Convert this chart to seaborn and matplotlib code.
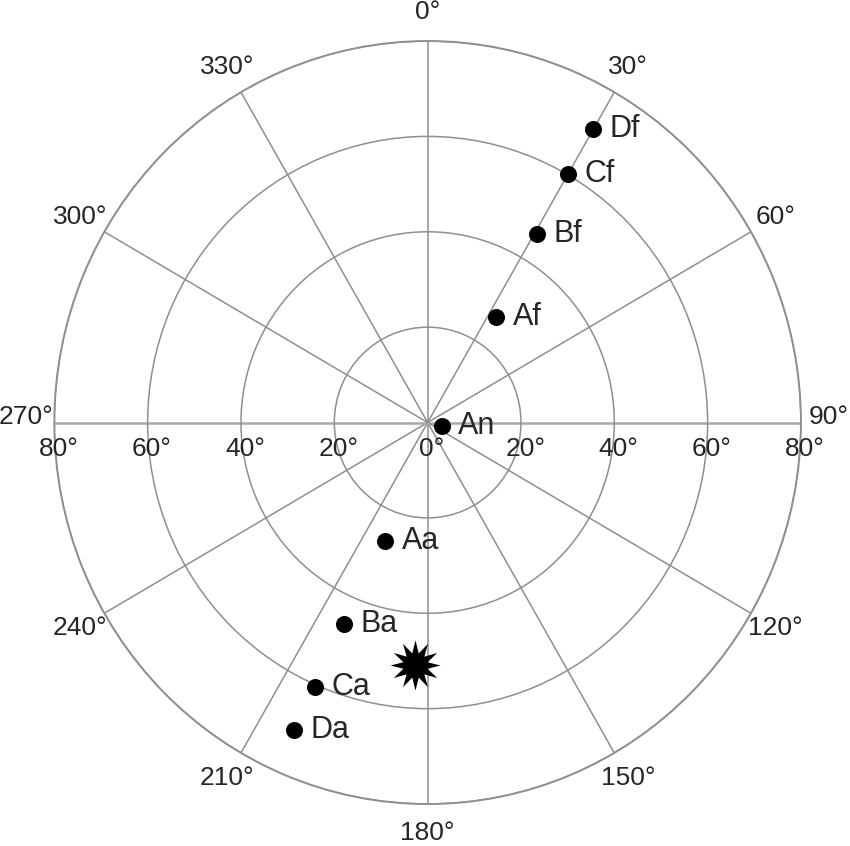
import numpy as np
import pandas as pd
import matplotlib
matplotlib.use("Agg")
import matplotlib.pyplot as plt
import seaborn as sns

# ---- data ----
point_labels = ["Af", "Bf", "Cf", "Df", "An", "Aa", "Ba", "Ca", "Da"]
azimuth_deg = [33.5, 30.5, 30.0, 30.0, 104.0, 200.0, 203.0, 203.5, 204.0]
zenith_deg = [26.5, 46.0, 60.3, 71.0, 3.1, 26.4, 46.0, 60.4, 70.5]
star_azimuth_deg = [183.0]
star_zenith_deg = [51.0]

angle_ticks = list(range(0, 360, 30))
angle_tick_labels = [f"{a}°" for a in angle_ticks]
radial_ticks = [20, 40, 60, 80]
radial_tick_labels = ["20°", "40°", "60°", "80°"]

df = pd.DataFrame({"label": point_labels,
                   "theta": np.deg2rad(azimuth_deg),
                   "r": zenith_deg})
star = pd.DataFrame({"theta": np.deg2rad(star_azimuth_deg), "r": star_zenith_deg})

sns.set_style("white")
plt.rcParams["font.family"] = ["Liberation Sans", "DejaVu Sans"]

fig = plt.figure(figsize=(8.5, 8.46), dpi=100)
ax = fig.add_axes([0.0639, 0.0496, 0.8784, 0.9019], projection="polar")
ax.set_aspect("auto")
ax.set_theta_zero_location("N")
ax.set_theta_direction(-1)

grid_color = "#8f8f8f"
sns.scatterplot(data=df, x="theta", y="r", ax=ax, color="black", s=150,
                linewidth=0, zorder=4, legend=False)
sns.scatterplot(data=star, x="theta", y="r", ax=ax, color="black", s=1300,
                marker=(12, 1, 0), linewidth=0, zorder=4, legend=False)
ax.set_xlabel("")
ax.set_ylabel("")

ax.set_ylim(0, 80)
ax.set_rticks(radial_ticks)
ax.set_yticklabels([])
ax.set_thetagrids(angle_ticks, labels=[""] * len(angle_ticks))
ax.grid(True, color=grid_color, linewidth=1.1)
for i, gl in enumerate(ax.xaxis.get_gridlines()):
    if angle_ticks[i] in (90, 270):
        gl.set_linewidth(1.8)
        gl.set_color("#a8a8a8")
ax.spines["polar"].set_color(grid_color)
ax.spines["polar"].set_linewidth(1.4)

fs = 19
# angle labels
for a, lab in zip(angle_ticks, angle_tick_labels):
    dy = 4 if a in (90, 270) else 0
    ax.annotate(lab, xy=(np.deg2rad(a), 86), xytext=(0, dy),
                textcoords="offset points", ha="center", va="center",
                fontsize=fs, annotation_clip=False)

# radial labels along the horizontal axis
ax.annotate("0°", xy=(0, 0), xytext=(3, -19), textcoords="offset points",
            ha="center", va="center", fontsize=fs, annotation_clip=False)
for r, lab in zip(radial_ticks, radial_tick_labels):
    for a in (90, 270):
        ax.annotate(lab, xy=(np.deg2rad(a), r), xytext=(3, -19),
                    textcoords="offset points", ha="center", va="center",
                    fontsize=fs, annotation_clip=False)

# point labels
for _, row in df.iterrows():
    ax.annotate(row["label"], xy=(row["theta"], row["r"]), xytext=(12, 0),
                textcoords="offset points", ha="left", va="center",
                fontsize=22, annotation_clip=False, zorder=5)

fig.savefig("out.png", dpi=100, facecolor="white")
